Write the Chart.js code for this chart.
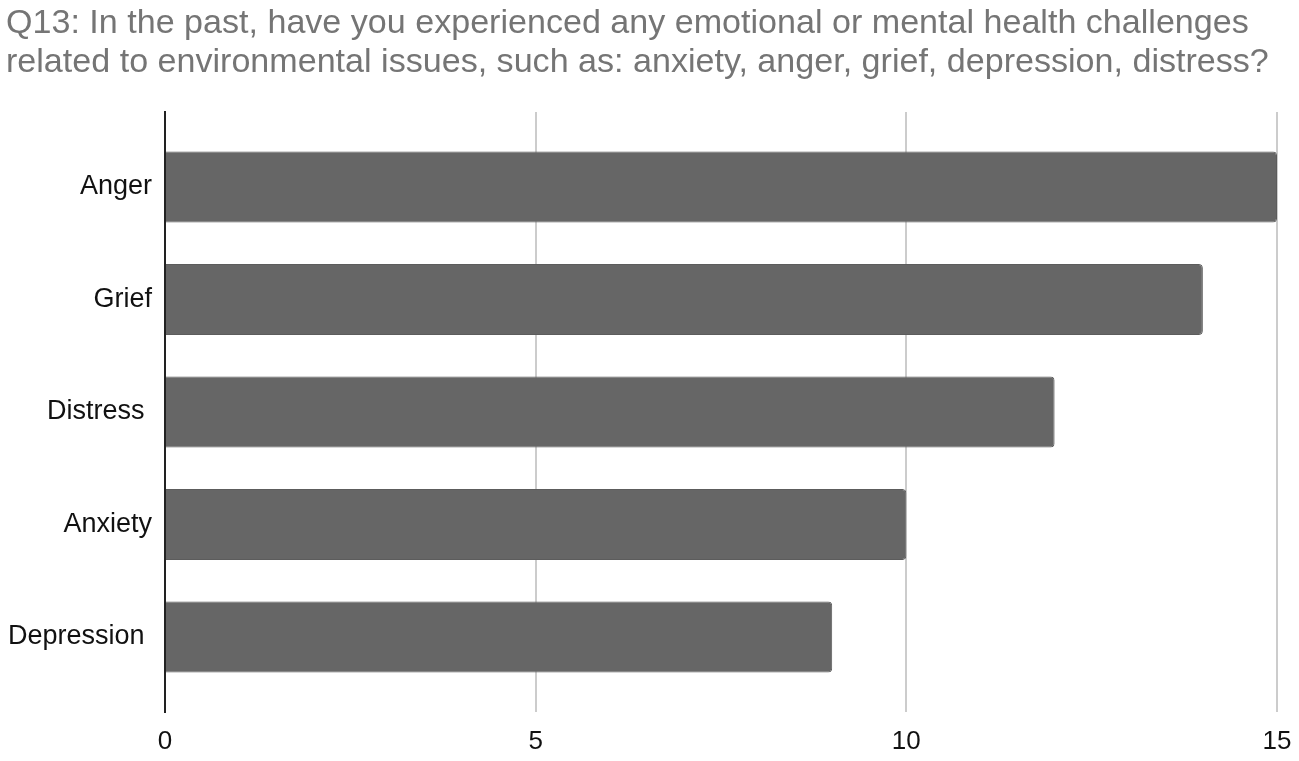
<!DOCTYPE html>
<html>
<head>
<meta charset="utf-8">
<script src="https://cdn.jsdelivr.net/npm/chart.js@4"></script>
<style>
  html, body { margin: 0; padding: 0; background: #ffffff; }
  #wrap { width: 1299px; height: 761px; }
</style>
</head>
<body>
<div id="wrap"><canvas id="c" width="1299" height="761"></canvas></div>
<script>
const titleLines = [
  "Q13: In the past, have you experienced any emotional or mental health challenges",
  "related to environmental issues, such as: anxiety, anger, grief, depression, distress?"
];
const categories = ["Anger", "Grief", "Distress ", "Anxiety", "Depression "];
const counts = [15, 14, 12, 10, 9];
const xTicks = [0, 5, 10, 15];

const FONT = "'Liberation Sans', Arial, Helvetica, sans-serif";

const points = counts.map((v, i) => ({ x: v, y: i }));

new Chart(document.getElementById('c'), {
  type: 'bar',
  data: {
    datasets: [{
      data: points,
      backgroundColor: '#666666',
      borderColor: '#5c5c5c',
      borderWidth: 1,
      borderRadius: 4,
      borderSkipped: 'start',
      categoryPercentage: 1,
      barPercentage: 0.63
    }]
  },
  options: {
    indexAxis: 'y',
    responsive: false,
    devicePixelRatio: 1,
    animation: false,
    layout: { padding: { left: 6, right: 22, top: 0, bottom: 0 } },
    plugins: {
      legend: { display: false },
      tooltip: { enabled: false },
      title: {
        display: true,
        text: titleLines,
        align: 'start',
        color: '#757575',
        font: { family: FONT, size: 34.1, weight: 'normal', lineHeight: 39.5 / 34.1 },
        padding: { top: 3.5, bottom: 29.5 }
      }
    },
    scales: {
      x: {
        type: 'linear',
        min: 0,
        max: 15,
        afterBuildTicks: (s) => { s.ticks = xTicks.map(v => ({ value: v })); },
        afterFit: (s) => { s.height = 49; s.paddingLeft = 0; s.paddingRight = 0; },
        ticks: {
          color: '#111111',
          font: { family: FONT, size: 26 },
          padding: 14
        },
        grid: {
          drawTicks: false,
          lineWidth: 2,
          color: (ctx) => (ctx.tick && ctx.tick.value === 0) ? 'rgba(0,0,0,0)' : '#cccccc'
        },
        border: { display: false }
      },
      y: {
        type: 'linear',
        offset: false,
        reverse: true,
        min: -2 / 3,
        max: categories.length - 1 + 2 / 3,
        afterBuildTicks: (s) => { s.ticks = categories.map((c, i) => ({ value: i })); },
        afterFit: (s) => { s.width = 159; s.paddingTop = 0; s.paddingBottom = 0; },
        ticks: {
          color: '#111111',
          font: { family: FONT, size: 27 },
          padding: 13,
          callback: (v) => categories[v]
        },
        grid: { display: false, drawTicks: false, offset: false },
        border: { display: true, color: '#222222', width: 2 }
      }
    }
  }
});
</script>
</body>
</html>
